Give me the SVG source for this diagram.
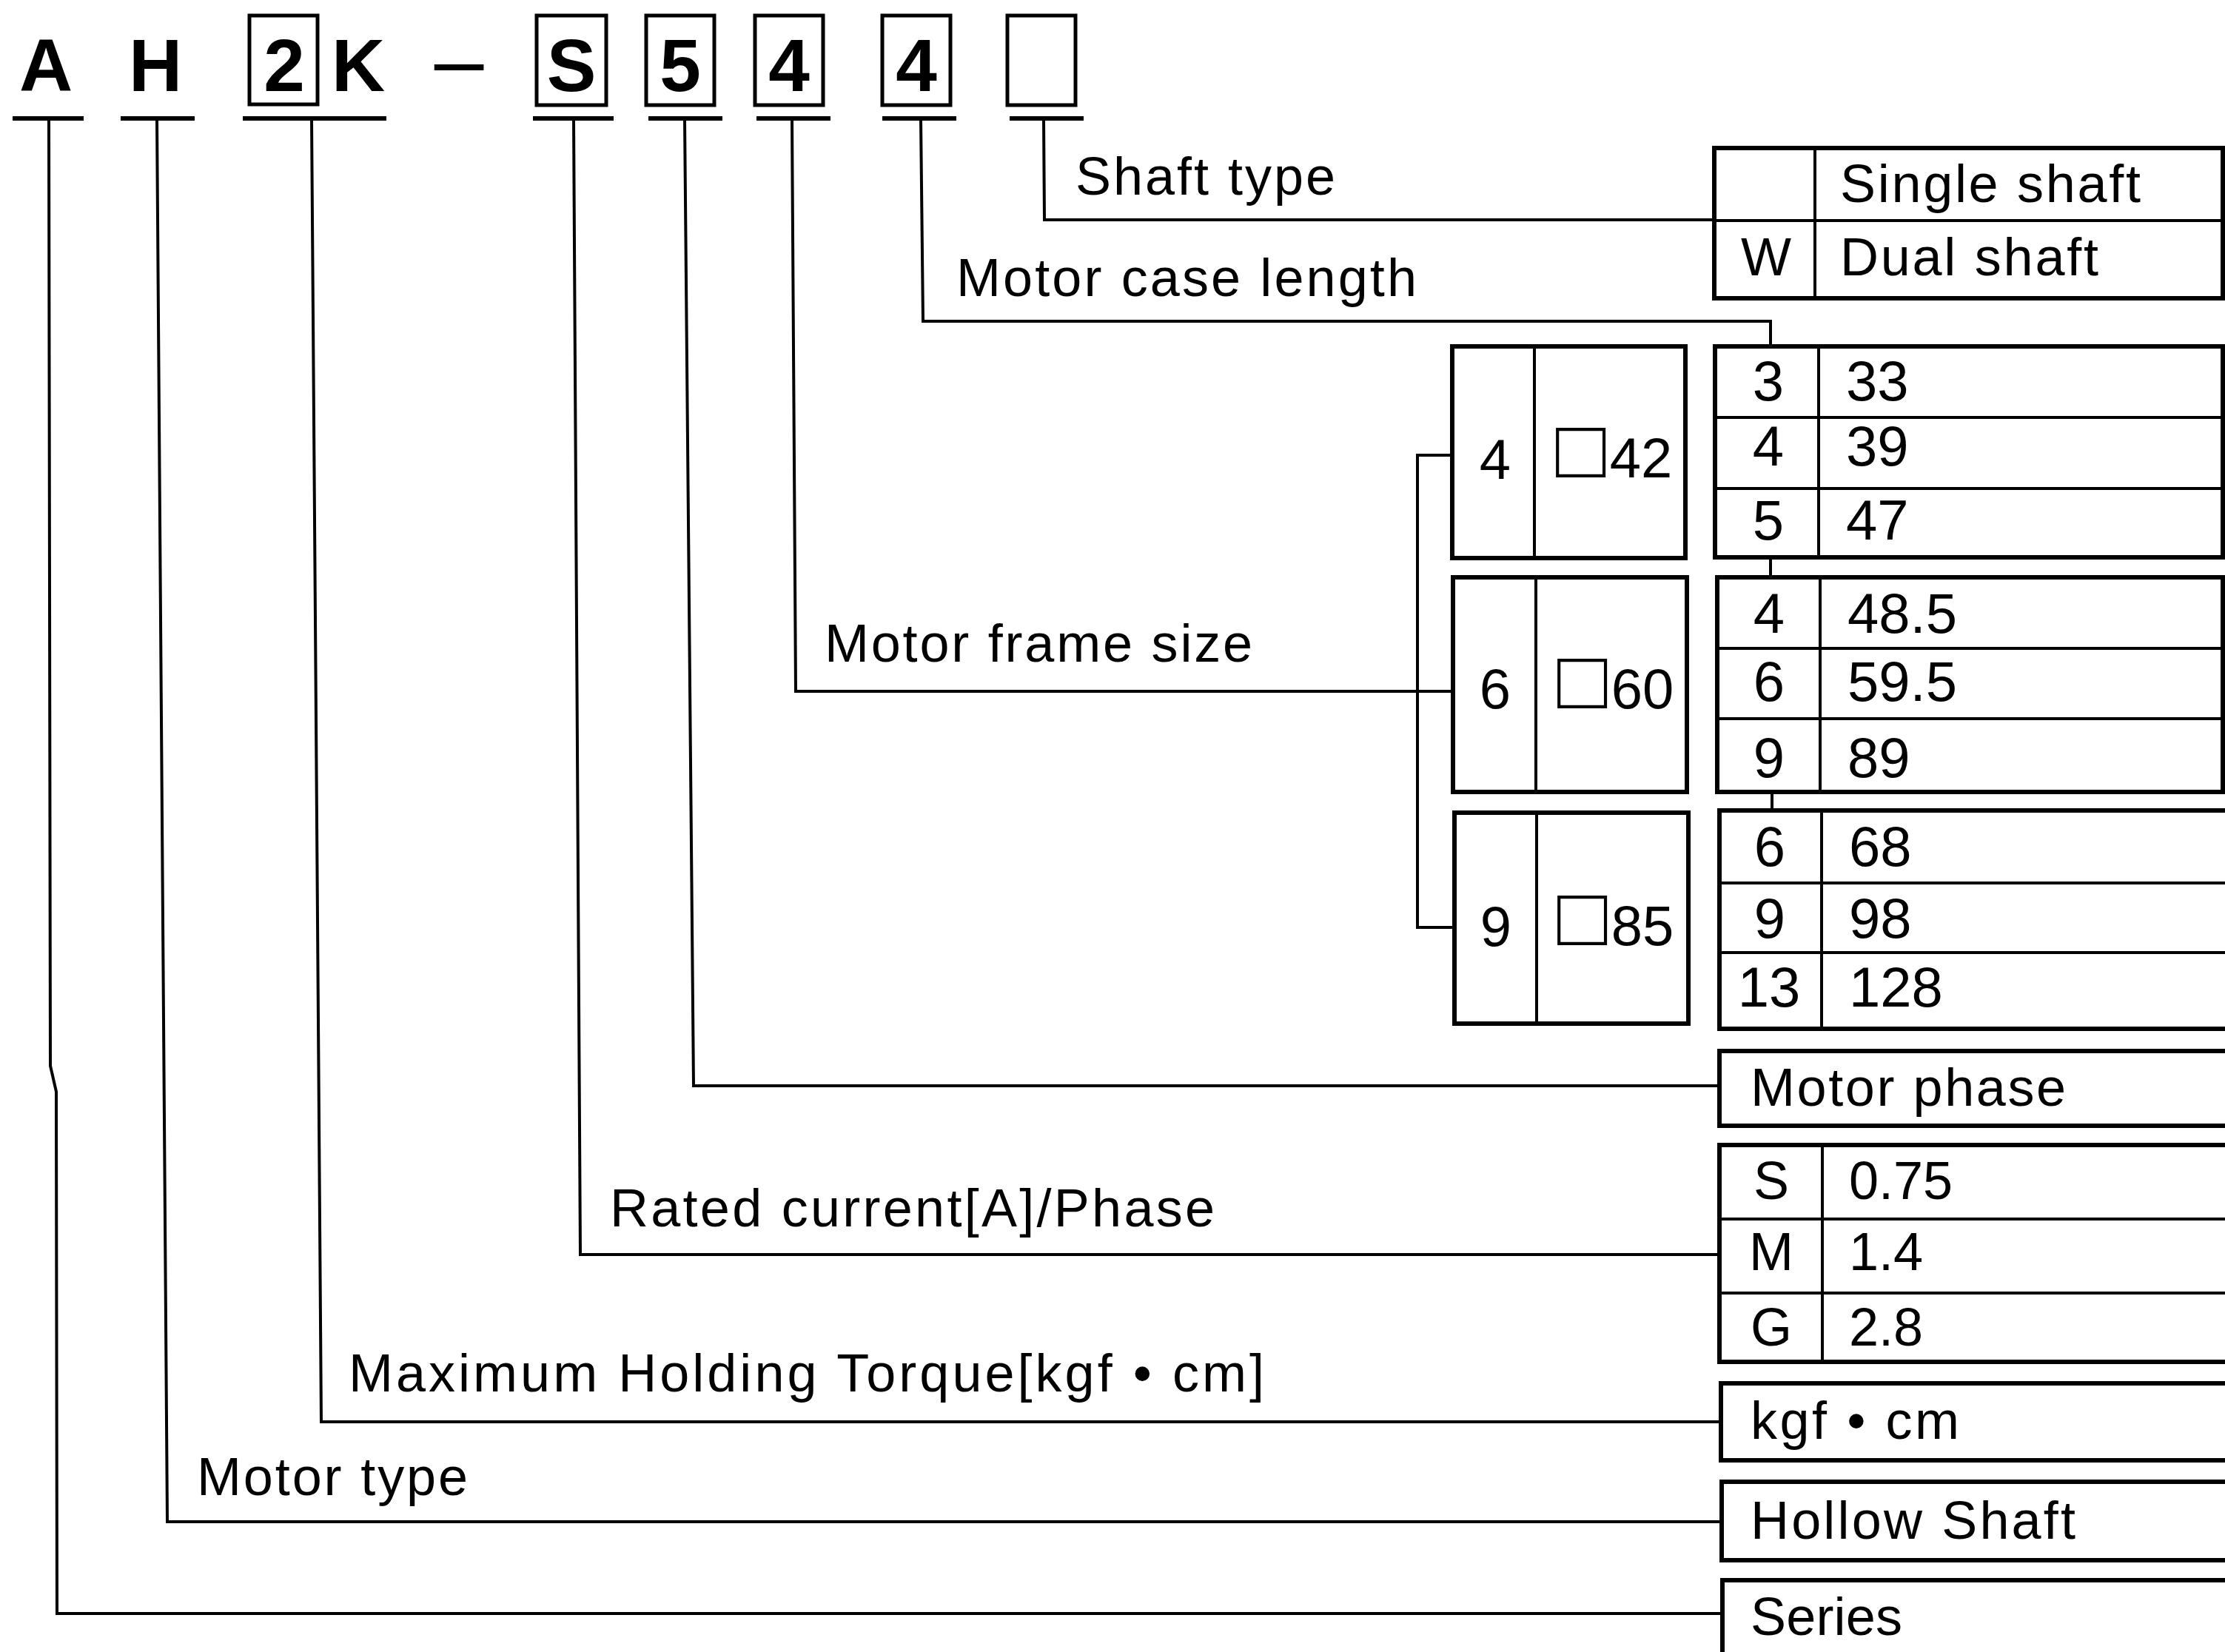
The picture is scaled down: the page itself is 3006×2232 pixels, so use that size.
<svg xmlns="http://www.w3.org/2000/svg" width="3006" height="2232" viewBox="0 0 3006 2232">
<style>
text{font-family:"Liberation Sans",Arial,sans-serif;fill:#000}
.code{font-size:100px;font-weight:bold}
.dash{font-size:120px}
.lbl{font-size:72px}
.cell{font-size:72px}
.num{font-size:76px}
.ln{stroke:#000;stroke-width:4;fill:none;stroke-linejoin:miter}
.ul{stroke:#000;stroke-width:6;fill:none}
.bx{stroke:#000;stroke-width:5;fill:none}
.tb{stroke:#000;stroke-width:6;fill:none}
.dv{stroke:#000;stroke-width:4;fill:none}
.mid{text-anchor:middle}
</style>
<rect width="3006" height="2232" fill="#fff"/>

<g id="code">
  <text class="code mid" x="62" y="123">A</text>
  <text class="code mid" x="210" y="123">H</text>
  <rect class="bx" x="337" y="21" width="92" height="120"/>
  <text class="code mid" x="384" y="123">2</text>
  <text class="code mid" x="484" y="123">K</text>
  <text class="dash mid" x="620" y="122">–</text>
  <rect class="bx" x="725" y="21" width="94" height="121"/>
  <text class="code mid" x="772" y="123">S</text>
  <rect class="bx" x="873" y="21" width="92" height="121"/>
  <text class="code mid" x="919" y="123">5</text>
  <rect class="bx" x="1020" y="21" width="92" height="121"/>
  <text class="code mid" x="1066" y="123">4</text>
  <rect class="bx" x="1192" y="21" width="92" height="121"/>
  <text class="code mid" x="1238" y="123">4</text>
  <rect class="bx" x="1361" y="21" width="92" height="121"/>
  <path class="ul" d="M17,160H113 M163,160H263 M328,160H522 M720,160H829 M876,160H976 M1022,160H1122 M1192,160H1292 M1364,160H1464"/>
</g>

<g id="connectors">
  <path class="ln" d="M1410,160 L1411,297 H2316"/>
  <path class="ln" d="M1244,160 L1247,434 H2392 V468"/>
  <path class="ln" d="M1070,160 L1075,934 H1962"/>
  <path class="ln" d="M1962,615 H1915 V1253 H1965"/>
  <path class="ln" d="M2392,754 V780 M2394,1070 V1095"/>
  <path class="ln" d="M925,160 L937,1467 H2325"/>
  <path class="ln" d="M775,160 L784,1695 H2323"/>
  <path class="ln" d="M421,160 L434,1921 H2325"/>
  <path class="ln" d="M212,160 L226,2056 H2326"/>
  <path class="ln" d="M66,160 L68,1440 L76,1475 L77,2180 H2327"/>
</g>

<g id="labels">
  <text class="lbl" x="1453" y="263" textLength="351" lengthAdjust="spacing">Shaft type</text>
  <text class="lbl" x="1292" y="400" textLength="622" lengthAdjust="spacing">Motor case length</text>
  <text class="lbl" x="1114" y="894" textLength="578" lengthAdjust="spacing">Motor frame size</text>
  <text class="lbl" x="824" y="1657" textLength="817" lengthAdjust="spacing">Rated current[A]/Phase</text>
  <text class="lbl" x="471" y="1880" textLength="1237" lengthAdjust="spacing">Maximum Holding Torque[kgf • cm]</text>
  <text class="lbl" x="266" y="2020" textLength="366" lengthAdjust="spacing">Motor type</text>
</g>

<g id="shaft-table">
  <rect class="tb" x="2316" y="200" width="687" height="203"/>
  <path class="dv" d="M2316,298H3003 M2452,200V403"/>
  <text class="cell mid" x="2386" y="372">W</text>
  <text class="cell" x="2486" y="273" textLength="406" lengthAdjust="spacing">Single shaft</text>
  <text class="cell" x="2486" y="372" textLength="349" lengthAdjust="spacing">Dual shaft</text>
</g>

<g id="frame-4">
  <rect class="tb" x="1962" y="468" width="315" height="286"/>
  <path class="dv" d="M2073,468V754"/>
  <text class="num mid" x="2020" y="647">4</text>
  <text class="num" x="2102" y="645"><tspan font-size="112">□</tspan><tspan dx="5">42</tspan></text>
</g>
<g id="frame-6">
  <rect class="tb" x="1963" y="780" width="316" height="290"/>
  <path class="dv" d="M2075,780V1070"/>
  <text class="num mid" x="2020" y="957">6</text>
  <text class="num" x="2104" y="957"><tspan font-size="112">□</tspan><tspan dx="5">60</tspan></text>
</g>
<g id="frame-9">
  <rect class="tb" x="1965" y="1098" width="316" height="285"/>
  <path class="dv" d="M2076,1098V1383"/>
  <text class="num mid" x="2021" y="1278">9</text>
  <text class="num" x="2104" y="1277"><tspan font-size="112">□</tspan><tspan dx="5">85</tspan></text>
</g>

<g id="length-42">
  <rect class="tb" x="2317" y="468" width="686" height="285"/>
  <path class="dv" d="M2317,564H3003 M2317,660H3003 M2457,468V753"/>
  <text class="num mid" x="2389" y="541">3</text>
  <text class="num mid" x="2389" y="629">4</text>
  <text class="num mid" x="2389" y="729">5</text>
  <text class="num" x="2494" y="541">33</text>
  <text class="num" x="2494" y="629">39</text>
  <text class="num" x="2494" y="729">47</text>
</g>
<g id="length-60">
  <rect class="tb" x="2320" y="780" width="683" height="290"/>
  <path class="dv" d="M2320,876H3003 M2320,971H3003 M2459,780V1070"/>
  <text class="num mid" x="2390" y="855">4</text>
  <text class="num mid" x="2390" y="947">6</text>
  <text class="num mid" x="2390" y="1050">9</text>
  <text class="num" x="2496" y="855">48.5</text>
  <text class="num" x="2496" y="947">59.5</text>
  <text class="num" x="2496" y="1050">89</text>
</g>
<g id="length-85">
  <path class="tb" d="M3012,1095H2323V1390H3012"/>
  <path class="dv" d="M2323,1193H3010 M2323,1287H3010 M2461,1095V1390"/>
  <text class="num mid" x="2391" y="1170">6</text>
  <text class="num mid" x="2391" y="1267">9</text>
  <text class="num mid" x="2390" y="1360">13</text>
  <text class="num" x="2498" y="1170">68</text>
  <text class="num" x="2498" y="1267">98</text>
  <text class="num" x="2498" y="1360">128</text>
</g>

<g id="motor-phase">
  <path class="tb" d="M3012,1420H2323V1521H3012"/>
  <text class="cell" x="2365" y="1494" textLength="426" lengthAdjust="spacing">Motor phase</text>
</g>
<g id="rated-current">
  <path class="tb" d="M3012,1547H2323V1840H3012"/>
  <path class="dv" d="M2323,1647H3010 M2323,1747H3010 M2462,1547V1840"/>
  <text class="cell mid" x="2393" y="1620">S</text>
  <text class="cell mid" x="2393" y="1716">M</text>
  <text class="cell mid" x="2393" y="1818">G</text>
  <text class="cell" x="2498" y="1620">0.75</text>
  <text class="cell" x="2498" y="1716">1.4</text>
  <text class="cell" x="2498" y="1818">2.8</text>
</g>
<g id="torque-unit">
  <path class="tb" d="M3012,1869H2325V1973H3012"/>
  <text class="cell" x="2365" y="1944" textLength="282" lengthAdjust="spacing">kgf • cm</text>
</g>
<g id="motor-type">
  <path class="tb" d="M3012,2002H2326V2108H3012"/>
  <text class="cell" x="2365" y="2079" textLength="439" lengthAdjust="spacing">Hollow Shaft</text>
</g>
<g id="series">
  <path class="tb" d="M3012,2135H2327V2240"/>
  <text class="cell" x="2365" y="2209" textLength="205" lengthAdjust="spacing">Series</text>
</g>
</svg>
